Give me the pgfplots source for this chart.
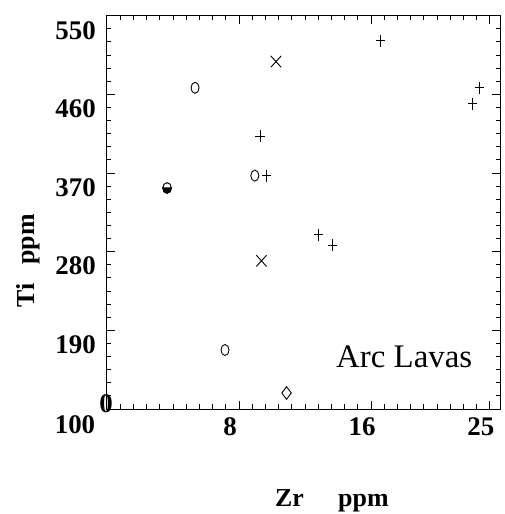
\documentclass[border=0pt]{standalone}
\usepackage{pgfplots}
\pgfplotsset{compat=1.18}
\usepackage{fontspec}
\setmainfont{Liberation Serif}
\pgfdeclareplotmark{halfo}{%
  \pgfpathmoveto{\pgfqpoint{-4.3bp}{0bp}}%
  \pgfpatharc{180}{360}{4.3bp and 5.3bp}%
  \pgfpathclose
  \pgfusepathqfillstroke
  \pgfpathellipse{\pgfpointorigin}{\pgfqpoint{4.3bp}{0bp}}{\pgfqpoint{0bp}{5.3bp}}%
  \pgfusepathqstroke
}
\begin{document}
\begin{tikzpicture}
\path[use as bounding box] (-107bp,-105bp) rectangle (398bp,409bp);
\begin{axis}[
  at={(0,0)}, anchor=south west,
  scale only axis, width=393bp, height=393.3bp,
  xmin=0, xmax=29.77, ymin=0, ymax=30,
  axis line style={line width=1bp},
  xtick={10,20,29}, xticklabels={8,16,25},
  ytick={6,12,18,24,30}, yticklabels={190,280,370,460,550},
  minor xtick={1,2,...,29},
  minor ytick={1,2,...,30},
  tick align=inside,
  major tick length=8bp, minor tick length=4.5bp,
  tick style={line width=0.9bp, black},
  tick label style={font=\fontsize{27}{27}\selectfont\bfseries},
  xticklabel style={anchor=north, inner sep=0pt, yshift=-8bp, xshift=-9bp},
  yticklabel style={anchor=east, inner sep=0pt, xshift=-11bp, yshift=-14.5bp},
  clip=false,
]
\addplot[only marks, mark=halfo, mark options={fill=black, line width=1bp}] coordinates {(4.55,16.86)};
\addplot[only marks, mark=o, mark size=5.5bp, mark options={xscale=0.73, line width=0.9bp}] coordinates {(6.67,24.5) (11.2,17.8) (8.94,4.5)};
\addplot[only marks, mark=+, mark size=6bp, mark options={xscale=0.78, line width=0.9bp}] coordinates {(12.1,17.8) (11.6,20.8) (20.7,28.1) (28.2,24.5) (27.7,23.3) (16.0,13.3) (17.1,12.5)};
\addplot[only marks, mark=x, mark size=7.3bp, mark options={yscale=1.1, line width=0.9bp}] coordinates {(12.8,26.5) (11.7,11.3)};
\addplot[only marks, mark=diamond, mark size=6.3bp, mark options={line width=0.9bp}] coordinates {(13.6,1.22)};
\node[anchor=base west, inner sep=0pt, font=\fontsize{33}{33}\selectfont] at (axis cs:17.35,3.13) {Arc Lavas};
\end{axis}
\node[font=\fontsize{27}{27}\selectfont\bfseries, inner sep=0pt] at (-1bp,5bp) {0};
\node[font=\fontsize{27}{27}\selectfont\bfseries, inner sep=0pt] at (-32bp,-16bp) {100};
\node[font=\fontsize{26}{26}\selectfont\bfseries, inner sep=0pt, anchor=base west] at (168bp,-97.7bp) {Zr};
\node[font=\fontsize{26}{26}\selectfont\bfseries, inner sep=0pt, anchor=base west] at (231bp,-97.7bp) {ppm};
\node[font=\fontsize{26}{26}\selectfont\bfseries, inner sep=0pt, anchor=base west, rotate=90] at (-72bp,101bp) {Ti};
\node[font=\fontsize{26}{26}\selectfont\bfseries, inner sep=0pt, anchor=base west, rotate=90] at (-72bp,144bp) {ppm};
\end{tikzpicture}
\end{document}
